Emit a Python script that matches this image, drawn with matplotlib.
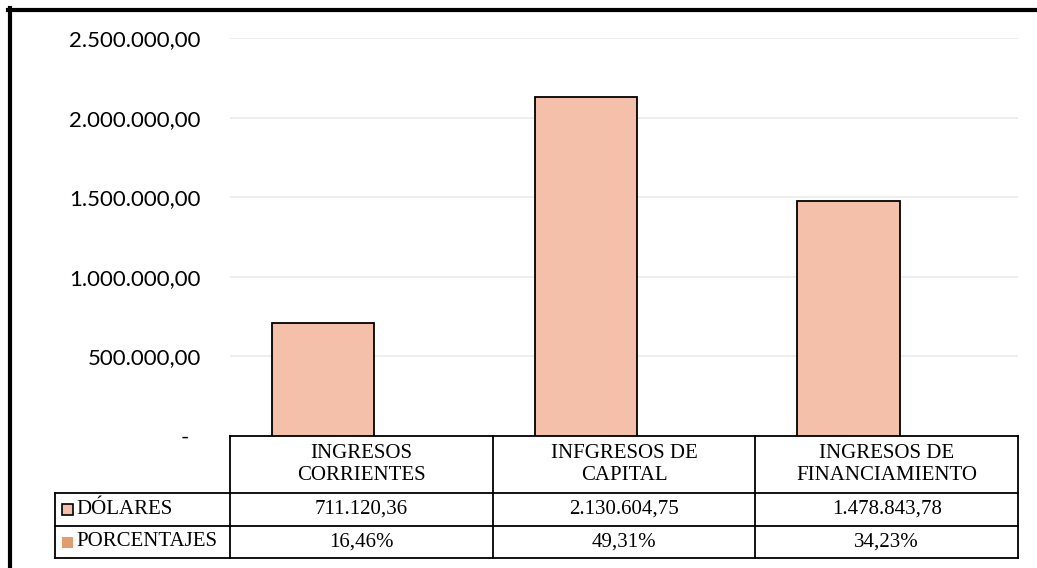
import matplotlib.pyplot as plt
import matplotlib.lines as mlines
import matplotlib.patches as mpatches
import numpy as np

categorias = ["INGRESOS\nCORRIENTES", "INFGRESOS DE\nCAPITAL", "INGRESOS DE\nFINANCIAMIENTO"]
dolares = [711120.36, 2130604.75, 1478843.78]
porcentajes = [16.46, 49.31, 34.23]
dolares_txt = ["711.120,36", "2.130.604,75", "1.478.843,78"]
porcentajes_txt = ["16,46%", "49,31%", "34,23%"]
series = ["DÓLARES", "PORCENTAJES"]
yticks = [0, 500000, 1000000, 1500000, 2000000, 2500000]
ytick_labels = ["-  ", "500.000,00", "1.000.000,00", "1.500.000,00", "2.000.000,00", "2.500.000,00"]

c_bar = "#F4C0AA"
c_pct = "#E39C6E"

W, H = 1037, 568
fig = plt.figure(figsize=(W / 100, H / 100), dpi=100)
ax = fig.add_axes([230 / W, (H - 436) / H, 788 / W, 398 / H])

x = np.arange(len(categorias))
# barras agrupadas: la serie de porcentajes es casi invisible a esta escala
ax.bar(x - 0.145, dolares, width=0.39, color=c_bar, edgecolor="black", linewidth=1.3, zorder=3)
ax.bar(x + 0.245, porcentajes, width=0.39, color=c_pct, zorder=3)
ax.set_xlim(-0.5, 2.5)
ax.set_ylim(0, 2500000)
ax.set_yticks(yticks)
ax.set_yticklabels(ytick_labels, fontsize=16, family="Lato")
ax.tick_params(axis="y", length=0, pad=21)
ax.set_xticks([])
ax.grid(axis="y", color="#EBEBEB", lw=1.2, zorder=0)
for s in ax.spines.values():
    s.set_visible(False)

# tabla de datos debajo del eje
tr = ax.transAxes
lab_x = (55 - 230) / 788
y_h = (436 - 493) / 398
y_r1 = (436 - 526) / 398
y_r2 = (436 - 558) / 398
lw = 1.3
kw = dict(color="black", lw=lw, transform=tr, clip_on=False)
ax.plot([0, 1], [0, 0], **kw)
ax.plot([lab_x, 1], [y_h, y_h], **kw)
ax.plot([lab_x, 1], [y_r1, y_r1], **kw)
ax.plot([lab_x, 1], [y_r2, y_r2], **kw)
ax.plot([lab_x, lab_x], [y_h, y_r2], **kw)
for b in [0, 1 / 3, 2 / 3, 1]:
    ax.plot([b, b], [0, y_r2], **kw)

tf = dict(family="Liberation Serif", fontsize=15, ha="center", va="center", transform=tr, clip_on=False)
for i, cat in enumerate(categorias):
    cx = (i + 0.5) / 3
    ax.text(cx, y_h / 2, cat, linespacing=1.15, **tf)
    ax.text(cx, (y_h + y_r1) / 2, dolares_txt[i], **tf)
    ax.text(cx, (y_r1 + y_r2) / 2, porcentajes_txt[i], **tf)

sq_w, sq_h = 11 / 788, 11 / 398
for j, (nombre, yc) in enumerate(zip(series, [(y_h + y_r1) / 2, (y_r1 + y_r2) / 2])):
    x0 = (62 - 230) / 788
    if j == 0:
        p = mpatches.Rectangle((x0, yc - sq_h / 2), sq_w, sq_h, facecolor=c_bar,
                               edgecolor="black", lw=1.2, transform=tr, clip_on=False)
    else:
        p = mpatches.Rectangle((x0, yc - sq_h / 2), sq_w, sq_h, facecolor=c_pct,
                               edgecolor="none", transform=tr, clip_on=False)
    ax.add_patch(p)
    ax.text(x0 + 14 / 788, yc, nombre, family="Liberation Serif", fontsize=15,
            ha="left", va="center", transform=tr, clip_on=False)

# marco grueso arriba e izquierda
fig.add_artist(mlines.Line2D([8 / W, 1], [1 - 9.5 / H, 1 - 9.5 / H], color="black", lw=3, transform=fig.transFigure))
fig.add_artist(mlines.Line2D([10 / W, 10 / W], [0, 1 - 8 / H], color="black", lw=3, transform=fig.transFigure))

plt.savefig("out.png", dpi=100)
